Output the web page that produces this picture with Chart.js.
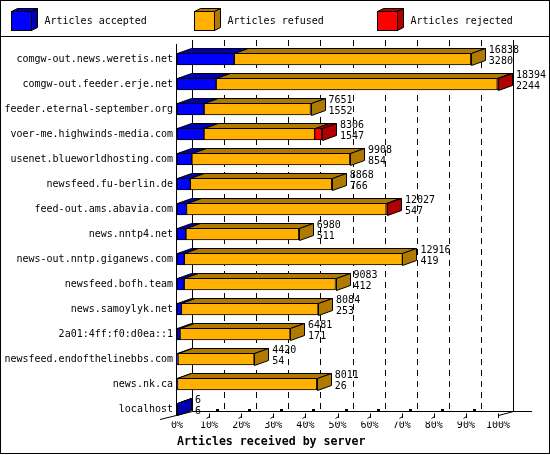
<!DOCTYPE html>
<html><head><meta charset="utf-8">
<script src="https://cdn.jsdelivr.net/npm/chart.js@4.4.0/dist/chart.umd.min.js"></script>
<style>html,body{margin:0;padding:0;background:#fff;overflow:hidden}canvas{display:block}</style>
</head><body>
<canvas id="c" width="550" height="455"></canvas>
<script>
const servers = ['comgw-out.news.weretis.net','comgw-out.feeder.erje.net','feeder.eternal-september.org','voer-me.highwinds-media.com','usenet.blueworldhosting.com','newsfeed.fu-berlin.de','feed-out.ams.abavia.com','news.nntp4.net','news-out.nntp.giganews.com','newsfeed.bofh.team','news.samoylyk.net','2a01:4ff:f0:d0ea::1','newsfeed.endofthelinebbs.com','news.nk.ca','localhost'];
const totals = [16838, 18394, 7651, 8306, 9908, 8868, 12027, 6980, 12916, 9083, 8084, 6481, 4420, 8011, 6];
const accepted = [3280, 2244, 1552, 1547, 854, 766, 547, 511, 419, 412, 253, 171, 54, 26, 6];
const rejected = [0, 40, 0, 420, 0, 0, 40, 0, 0, 0, 0, 0, 0, 0, 0];
const seriesNames = ['Articles accepted', 'Articles refused', 'Articles rejected'];
const frontColors = ['#0000ff', '#ffb000', '#ff0000'];
const darkColors = ['#0000b0', '#b07a00', '#b00000'];
const xTitle = 'Articles received by server';

const refused = totals.map((t, i) => t - accepted[i] - rejected[i]);
const maxTotal = Math.max(...totals);
const pct = arr => arr.map(v => v / maxTotal * 100);
const seriesValues = [accepted, refused, rejected];

const FONT = "'DejaVu Sans Mono', 'Liberation Mono', monospace";
const DX = 14, DY = 5, WDX = 15;

function poly(ctx, pts, fill) {
  ctx.beginPath();
  ctx.moveTo(pts[0][0], pts[0][1]);
  for (let k = 1; k < pts.length; k++) ctx.lineTo(pts[k][0], pts[k][1]);
  ctx.closePath();
  ctx.fillStyle = fill; ctx.fill();
  ctx.stroke();
}
const r = v => Math.round(v) + 0.5;

const threeD = {
  id: 'threeD',
  beforeDatasetsDraw(chart) {
    const ctx = chart.ctx, xs = chart.scales.x, a = chart.chartArea;
    const wallTop = 40, floorY = 411.5;
    ctx.save();
    ctx.strokeStyle = '#000'; ctx.lineWidth = 1;
    ctx.setLineDash([6, 5]);
    xs.ticks.forEach(t => {
      if (t.value <= 0 || t.value >= 100) return;
      const x = r(xs.getPixelForValue(t.value) + WDX);
      ctx.beginPath(); ctx.moveTo(x, wallTop); ctx.lineTo(x, floorY); ctx.stroke();
    });
    ctx.setLineDash([]);
    const lx = r(a.left + WDX), rx = r(xs.getPixelForValue(100) + WDX);
    ctx.beginPath();
    ctx.moveTo(lx, wallTop); ctx.lineTo(lx, floorY);
    ctx.moveTo(rx, wallTop); ctx.lineTo(rx, floorY);
    ctx.moveTo(lx, floorY); ctx.lineTo(532, floorY);
    ctx.moveTo(160, 419.5); ctx.lineTo(lx, floorY);
    const fx100 = r(xs.getPixelForValue(100));
    ctx.moveTo(fx100, 415.5); ctx.lineTo(rx, floorY);
    const fl = r(a.left - 1);
    ctx.moveTo(fl, 44); ctx.lineTo(fl, 415);
    ctx.stroke();
    xs.ticks.forEach(t => {
      if (t.value <= 0) return;
      const xf = r(xs.getPixelForValue(t.value));
      ctx.beginPath(); ctx.moveTo(xf, 413.5); ctx.lineTo(xf, 418); ctx.stroke();
      if (t.value < 100) {
        ctx.beginPath(); ctx.moveTo(xf - 3, 418.5); ctx.lineTo(xf, 416.5); ctx.stroke();
        ctx.fillStyle = '#000'; ctx.fillRect(Math.round(xf) + 6, 409, 3, 3);
      }
    });
    ctx.restore();
  },
  afterDatasetsDraw(chart) {
    const ctx = chart.ctx;
    ctx.save();
    ctx.strokeStyle = '#000'; ctx.lineWidth = 1;
    const metas = [0, 1, 2].map(d => chart.getDatasetMeta(d));
    const ends = [];
    servers.forEach((s, i) => {
      let last = -1;
      metas.forEach((m, d) => {
        if (seriesValues[d][i] > 0) last = d;
      });
      metas.forEach((m, d) => {
        if (seriesValues[d][i] <= 0) return;
        const el = m.data[i];
        const p = el.getProps(['x', 'y', 'base', 'height'], true);
        const x0 = r(p.base), x1 = r(p.x), top = r(p.y - p.height / 2);
        poly(ctx, [[x0, top], [x1, top], [x1 + DX, top - DY], [x0 + DX, top - DY]], darkColors[d]);
      });
      const el = metas[last].data[i];
      const p = el.getProps(['x', 'y', 'base', 'height'], true);
      const x1 = r(p.x), top = r(p.y - p.height / 2), bot = r(p.y + p.height / 2);
      poly(ctx, [[x1, top], [x1 + DX, top - DY], [x1 + DX, bot - DY], [x1, bot]], darkColors[last]);
      ends.push([p.x, p.y]);
    });
    ctx.fillStyle = '#000';
    ctx.font = '10px ' + FONT;
    ctx.textAlign = 'left'; ctx.textBaseline = 'middle';
    ends.forEach(([x, y], i) => {
      ctx.fillText(String(totals[i]), x + DX + 4, y - 8.5);
      ctx.fillText(String(accepted[i]), x + DX + 4, y + 2.5);
    });
    ctx.restore();
  },
  afterDraw(chart) {
    const ctx = chart.ctx;
    ctx.save();
    ctx.strokeStyle = '#000'; ctx.lineWidth = 1;
    seriesNames.forEach((name, k) => {
      const x0 = 11 + 183 * k + 0.5, y0 = 11.5, w = 20, h = 19, dx = 6, dy = 3;
      ctx.fillStyle = frontColors[k];
      ctx.fillRect(x0, y0, w, h); ctx.strokeRect(x0, y0, w, h);
      poly(ctx, [[x0, y0], [x0 + w, y0], [x0 + w + dx, y0 - dy], [x0 + dx, y0 - dy]], darkColors[k]);
      poly(ctx, [[x0 + w, y0], [x0 + w + dx, y0 - dy], [x0 + w + dx, y0 + h - dy], [x0 + w, y0 + h]], darkColors[k]);
      ctx.fillStyle = '#000';
      ctx.font = '10px ' + FONT;
      ctx.textAlign = 'left'; ctx.textBaseline = 'middle';
      ctx.fillText(name, x0 + 33, 21.5);
    });
    ctx.beginPath();
    ctx.moveTo(0, 36.5); ctx.lineTo(550, 36.5);
    ctx.stroke();
    ctx.strokeRect(0.5, 0.5, 549, 453);
    ctx.restore();
  }
};

new Chart(document.getElementById('c'), {
  type: 'bar',
  data: {
    labels: servers,
    datasets: seriesNames.map((n, d) => ({
      label: n,
      data: pct(seriesValues[d]),
      backgroundColor: frontColors[d],
      borderColor: '#000',
      borderWidth: 1,
      borderSkipped: false,
      barThickness: 12
    }))
  },
  options: {
    indexAxis: 'y',
    responsive: false,
    animation: false,
    devicePixelRatio: 1,
    layout: { padding: { top: 46.5, right: 52, bottom: 0, left: 0 } },
    plugins: { legend: { display: false }, tooltip: { enabled: false } },
    scales: {
      x: {
        type: 'linear', min: 0, max: 100, stacked: true,
        grid: { display: false, drawTicks: false },
        border: { display: false },
        ticks: { stepSize: 10, autoSkip: false, maxRotation: 0, padding: -2, color: '#000',
          font: { family: FONT, size: 10 }, callback: v => v + '%' },
        title: { display: true, text: xTitle, align: 'start', color: '#000',
          font: { family: FONT, size: 11.6, weight: 'bold' }, padding: { top: 0, bottom: 6 } },
        afterFit: s => { s.height = 33.5; }
      },
      y: {
        stacked: true,
        grid: { display: false, drawTicks: false },
        border: { display: false },
        ticks: { color: '#000', autoSkip: false, padding: 4, font: { family: FONT, size: 10 } },
        afterFit: s => { s.width = 177; }
      }
    }
  },
  plugins: [threeD]
});
</script>
</body></html>
